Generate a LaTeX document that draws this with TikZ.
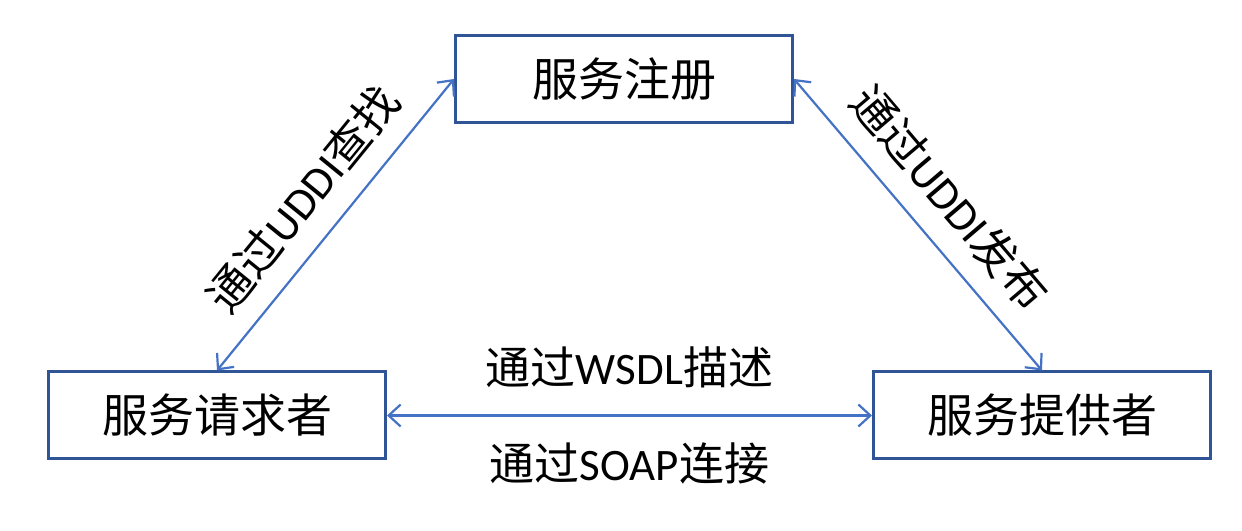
\documentclass[tikz,border=0pt]{standalone}
\usepackage{fontspec}
\setmainfont{Carlito}
\newfontfamily\cjkfont{Noto Sans CJK SC}
\usepackage{tikz}
\usetikzlibrary{arrows.meta, positioning}
\definecolor{boxedge}{RGB}{47,85,151}
\definecolor{linkblue}{RGB}{68,114,196}
\newcommand{\zh}[1]{{\cjkfont #1}}
\tikzset{
  rolebox/.style={rectangle,draw=boxedge,line width=3pt,fill=white,minimum width=337pt,minimum height=87pt,font=\fontsize{46}{52}\selectfont\cjkfont},
  linklabel/.style={font=\fontsize{45}{50}\selectfont,text=black,inner sep=2pt},
  biarr/.style={{Straight Barb[length=12pt,width=22pt]}-{Straight Barb[length=12pt,width=22pt]},line width=2.2pt,color=linkblue}
}

\begin{document}
\begin{tikzpicture}[x=1pt,y=1pt]
  \useasboundingbox (0,0) rectangle (1242,530);

  %% three roles
  \node[rolebox] (registry) at (624,451) {服务注册};
  \node[rolebox] (requester) at (217,114.5) {服务请求者};
  \node[rolebox] (provider) at (1042,114.5) {服务提供者};

  %% links between them
  \draw[biarr] (requester.north) -- (registry.west)
    node[linklabel,midway,sloped,above=18pt] {\zh{通过}UDDI\zh{查找}};
  \draw[biarr] (registry.east) -- (provider.north)
    node[linklabel,midway,sloped,above=18pt] {\zh{通过}UDDI\zh{发布}};
  \draw[biarr] (requester.east) -- (provider.west)
    node[linklabel,midway,above=24pt] {\zh{通过}WSDL\zh{描述}}
    node[linklabel,midway,below=24pt] {\zh{通过}SOAP\zh{连接}};
\end{tikzpicture}
\end{document}
